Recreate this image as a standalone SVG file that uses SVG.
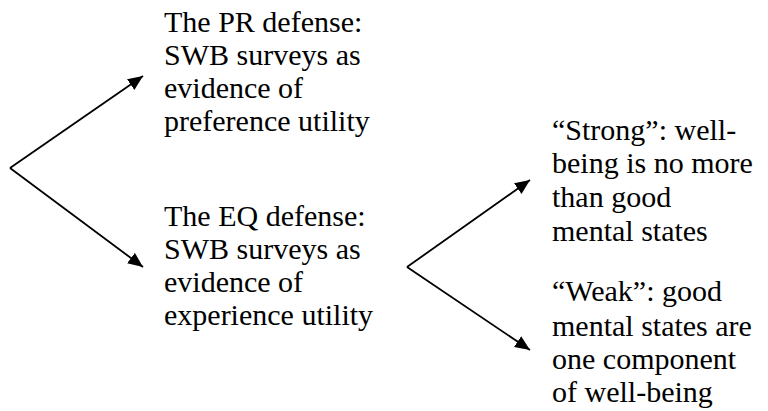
<svg xmlns="http://www.w3.org/2000/svg" width="768" height="411" viewBox="0 0 768 411">
  <defs>
    <marker id="head" markerUnits="userSpaceOnUse" markerWidth="16" markerHeight="13" refX="15" refY="6.5" orient="auto">
      <path d="M0,0 L15,6.5 L0,13 Z" fill="#000"/>
    </marker>
  </defs>
  <rect width="768" height="411" fill="#fff"/>

  <!-- branching arrows -->
  <g id="connectors" stroke="#000" stroke-width="1.8" fill="none" marker-end="url(#head)">
    <line x1="10" y1="168" x2="143" y2="76"/>
    <line x1="10" y1="168" x2="143" y2="267"/>
    <line x1="407" y1="267" x2="530" y2="180"/>
    <line x1="407" y1="267" x2="530" y2="350"/>
  </g>

  <g id="pr-defense">
    <text font-family="Times New Roman, Liberation Serif, serif" font-size="30" x="164" y="31.5">The PR defense:</text>
    <text font-family="Times New Roman, Liberation Serif, serif" font-size="30" x="164" y="64.5">SWB surveys as</text>
    <text font-family="Times New Roman, Liberation Serif, serif" font-size="30" x="164" y="97.5">evidence of</text>
    <text font-family="Times New Roman, Liberation Serif, serif" font-size="30" x="164" y="130.5">preference utility</text>
  </g>

  <g id="eq-defense">
    <text font-family="Times New Roman, Liberation Serif, serif" font-size="30" x="164" y="225.5">The EQ defense:</text>
    <text font-family="Times New Roman, Liberation Serif, serif" font-size="30" x="164" y="258.5">SWB surveys as</text>
    <text font-family="Times New Roman, Liberation Serif, serif" font-size="30" x="164" y="291.5">evidence of</text>
    <text font-family="Times New Roman, Liberation Serif, serif" font-size="30" x="164" y="324.5">experience utility</text>
  </g>

  <g id="strong">
    <text font-family="Times New Roman, Liberation Serif, serif" font-size="30" x="552" y="139.5">&#8220;Strong&#8221;: well-</text>
    <text font-family="Times New Roman, Liberation Serif, serif" font-size="30" x="552" y="173">being is no more</text>
    <text font-family="Times New Roman, Liberation Serif, serif" font-size="30" x="552" y="206.5">than good</text>
    <text font-family="Times New Roman, Liberation Serif, serif" font-size="30" x="552" y="240.5">mental states</text>
  </g>

  <g id="weak">
    <text font-family="Times New Roman, Liberation Serif, serif" font-size="30" x="552" y="301">&#8220;Weak&#8221;: good</text>
    <text font-family="Times New Roman, Liberation Serif, serif" font-size="30" x="552" y="335.5">mental states are</text>
    <text font-family="Times New Roman, Liberation Serif, serif" font-size="30" x="552" y="369">one component</text>
    <text font-family="Times New Roman, Liberation Serif, serif" font-size="30" x="552" y="401.5">of well-being</text>
  </g>
</svg>
